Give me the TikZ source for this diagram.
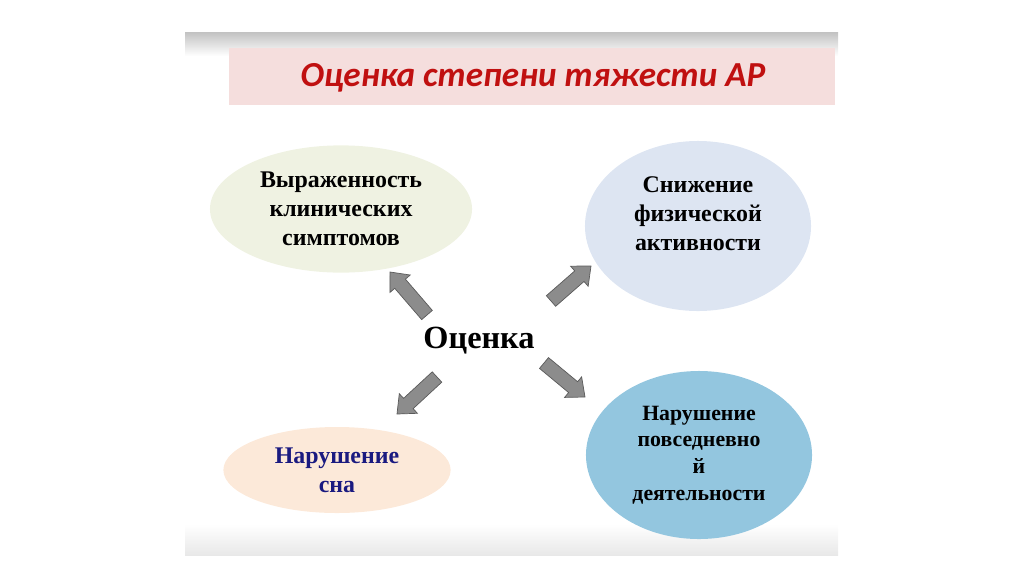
\documentclass[tikz,border=0pt]{standalone}
\usepackage{fontspec}
\setmainfont{Liberation Serif}
\newfontfamily\titlefont{Carlito}
\usepackage{xcolor}
\definecolor{title_red}{RGB}{192,16,16}
\definecolor{title_pink}{RGB}{245,222,221}
\definecolor{light_green}{RGB}{239,242,226}
\definecolor{light_grey_blue}{RGB}{221,229,242}
\definecolor{light_peach}{RGB}{252,233,217}
\definecolor{sky_blue}{RGB}{147,198,223}
\definecolor{dark_blue}{RGB}{26,26,128}
\definecolor{arrow_grey}{RGB}{140,140,140}
\definecolor{arrow_edge}{RGB}{90,90,90}
\usetikzlibrary{shapes.geometric,calc}

\newcommand{\fatarrow}[2]{%
\draw[fill=arrow_grey, draw=arrow_edge, line width=0.5pt, line join=miter]
  let \p1=(#1), \p2=(#2), \n1={atan2(\y2-\y1,\x2-\x1)} in
  ($(\p1)+(\n1+90:5pt)$) -- ($(\p2)+(\n1+180:11pt)+(\n1+90:5pt)$)
  -- ($(\p2)+(\n1+180:11pt)+(\n1+90:9.5pt)$) -- (\p2)
  -- ($(\p2)+(\n1+180:11pt)+(\n1-90:9.5pt)$)
  -- ($(\p2)+(\n1+180:11pt)+(\n1-90:5pt)$)
  -- ($(\p1)+(\n1-90:5pt)$) -- cycle;}

\tikzset{
  bubble/.style={ellipse, inner sep=0pt},
  bubbletext/.style={align=center, font=\fontsize{17}{20.5}\selectfont\bfseries}
}

\begin{document}
\begin{tikzpicture}[x=0.025cm, y=-0.025cm]
\useasboundingbox (0,0) rectangle (1024,574);

% slide frame
\shade[top color=black!24, bottom color=white] (185,32) rectangle (838,56);
\shade[top color=white, bottom color=black!9] (185,524) rectangle (838,555);
\fill[title_pink] (229,48) rectangle (835,105);
\node[font=\titlefont\fontsize{25}{30}\selectfont\bfseries\itshape, text=title_red] (title) at (533,78) {Оценка степени тяжести АР};

% ellipses
\node[bubble, bubbletext, fill=light_green, minimum width=6.55cm, minimum height=3.18cm] (symptoms) at (341,209) {Выраженность\\клинических\\симптомов};
\node[bubble, fill=light_grey_blue, minimum width=5.65cm, minimum height=4.25cm] (activity) at (698,226) {};
\node[bubbletext] (activity text) at (698,214) {Снижение\\физической\\активности};
\node[bubble, bubbletext, text=dark_blue, fill=light_peach, minimum width=5.68cm, minimum height=2.15cm] (sleep) at (337,470) {Нарушение\\сна};
\node[bubble, bubbletext, font=\fontsize{15.5}{19}\selectfont\bfseries, fill=sky_blue, minimum width=5.65cm, minimum height=4.2cm] (daily) at (699,455) {Нарушение\\повседневно\\й\\деятельности};

\node[font=\fontsize{23}{27}\selectfont\bfseries] (assess) at (479,341) {Оценка};

% arrows
\coordinate (ul tail) at (427,315); \coordinate (ul tip) at (390,272);
\coordinate (ur tail) at (551,301); \coordinate (ur tip) at (591,266);
\coordinate (ll tail) at (437,377); \coordinate (ll tip) at (397,414);
\coordinate (lr tail) at (544,363); \coordinate (lr tip) at (585,397);
\fatarrow{ul tail}{ul tip}
\fatarrow{ur tail}{ur tip}
\fatarrow{ll tail}{ll tip}
\fatarrow{lr tail}{lr tip}

\end{tikzpicture}
\end{document}
